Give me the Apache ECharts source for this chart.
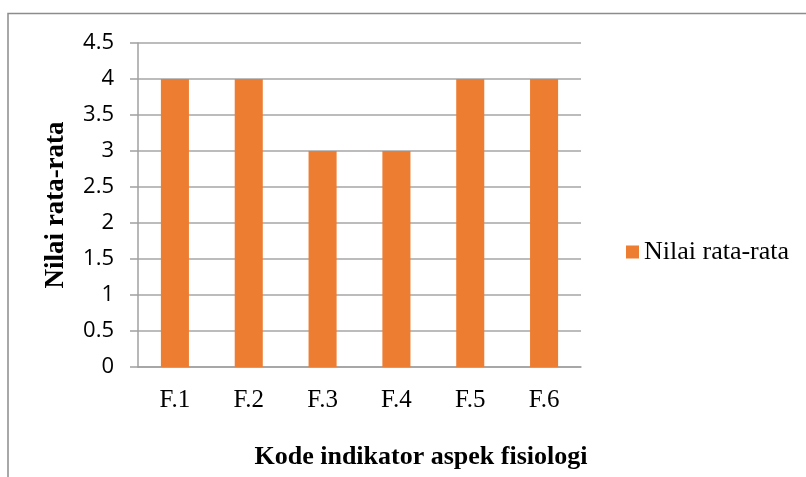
<!DOCTYPE html>
<html>
<head>
<meta charset="utf-8">
<script src="https://cdn.jsdelivr.net/npm/echarts@6/dist/echarts.min.js"></script>
<style>
    html, body { margin: 0; padding: 0; background: #fff; }
    #chart { width: 806px; height: 477px; }
</style>
</head>
<body>
<div id="chart"></div>
<script>
const categories = ['F.1', 'F.2', 'F.3', 'F.4', 'F.5', 'F.6'];
const values = [4, 4, 3, 3, 4, 4];
const seriesName = 'Nilai rata-rata';
const xTitle = 'Kode indikator aspek fisiologi';
const yTitle = 'Nilai rata-rata';

const serif = '"Liberation Serif", "Times New Roman", serif';

let chart = echarts.init(document.getElementById('chart'));
chart.setOption({
    animation: false,
    graphic: [
        {
            type: 'polyline',
            shape: { points: [[8, 477], [8, 13.5], [806, 13.5]] },
            style: { stroke: '#8c8c8c', lineWidth: 1.5, fill: null }
        }
    ],
    grid: {
        left: 138,
        right: 225,
        top: 43,
        bottom: 110
    },
    legend: {
        orient: 'vertical',
        left: 621,
        top: 234,
        itemWidth: 13,
        itemHeight: 13,
        itemGap: 6,
        icon: 'rect',
        textStyle: {
            fontFamily: serif,
            fontSize: 26,
            color: '#000'
        },
        data: [seriesName]
    },
    xAxis: {
        type: 'category',
        data: categories,
        name: xTitle,
        nameLocation: 'middle',
        nameGap: 77,
        nameTextStyle: {
            fontFamily: serif,
            fontWeight: 'bold',
            fontSize: 26,
            color: '#000',
            padding: [0, 0, 0, 123]
        },
        axisLine: { lineStyle: { color: '#a0a0a0', width: 1.5 } },
        axisTick: { show: false },
        axisLabel: {
            fontFamily: serif,
            fontSize: 25,
            color: '#000',
            margin: 21
        }
    },
    yAxis: {
        type: 'value',
        min: 0,
        max: 4.5,
        interval: 0.5,
        name: yTitle,
        nameLocation: 'middle',
        nameGap: 68,
        nameTextStyle: {
            fontFamily: serif,
            fontWeight: 'bold',
            fontSize: 27,
            color: '#000'
        },
        axisLine: { show: true, lineStyle: { color: '#a0a0a0', width: 1.5 } },
        axisTick: { show: true, length: 8, lineStyle: { color: '#a0a0a0', width: 1.5 } },
        splitLine: { lineStyle: { color: '#a6a6a6', width: 1.5 } },
        axisLabel: {
            fontFamily: '"Open Sans", "Noto Sans", sans-serif',
            fontSize: 22,
            color: '#000',
            margin: 24
        }
    },
    series: [
        {
            type: 'bar',
            name: seriesName,
            data: values,
            barWidth: '38%',
            itemStyle: { color: '#ED7D31' }
        }
    ]
});
</script>
</body>
</html>
